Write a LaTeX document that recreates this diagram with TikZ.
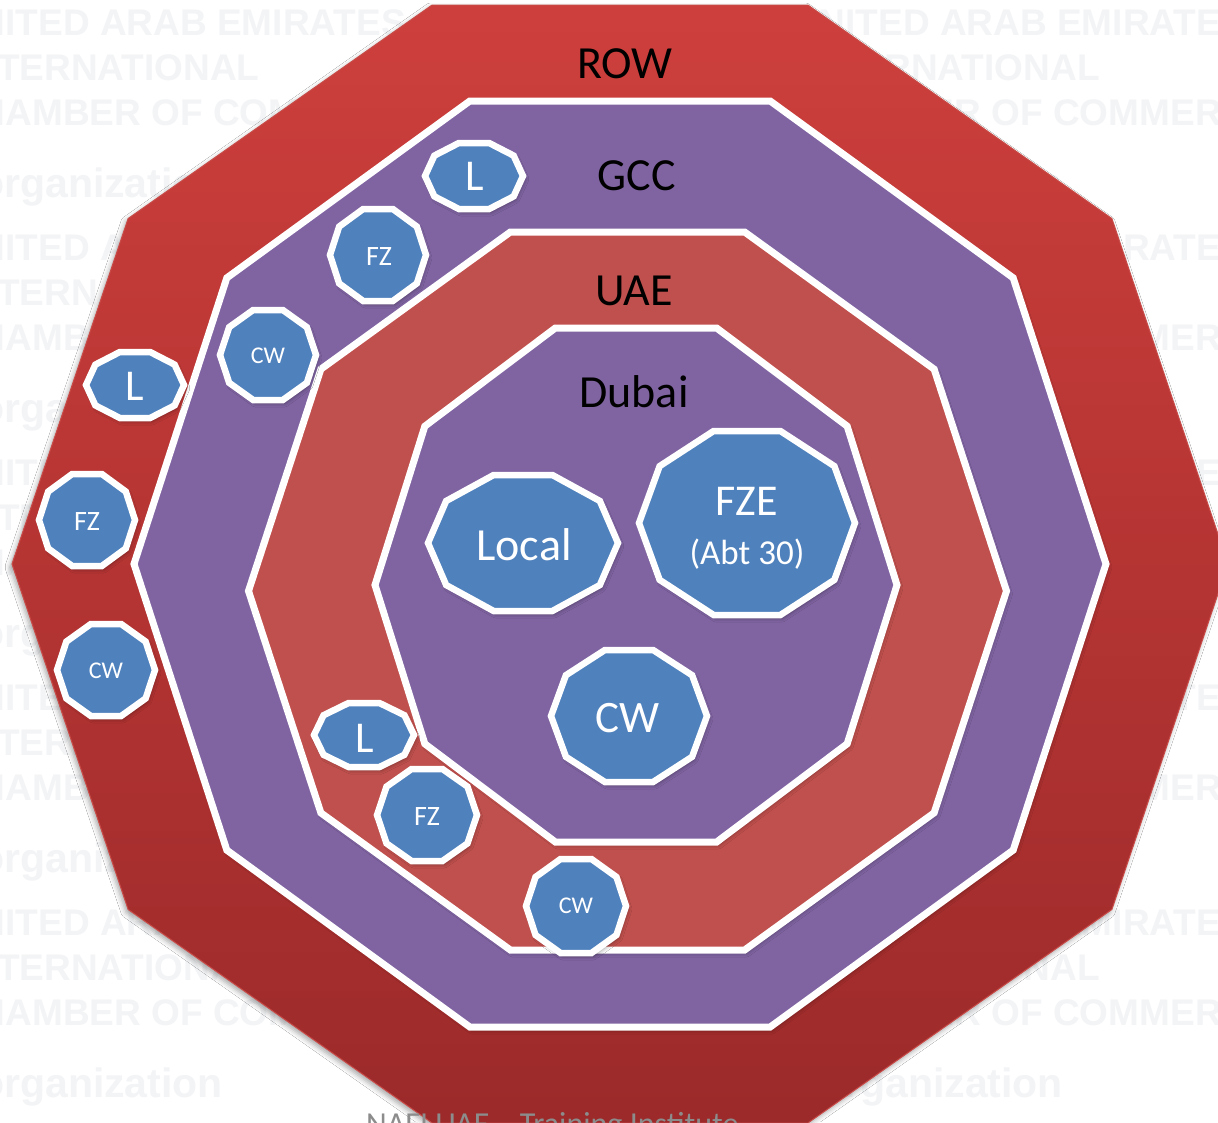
\documentclass[tikz,border=0pt]{standalone}
\usepackage{fontspec}
\setmainfont{Carlito}
\newfontfamily\wmfont{Liberation Sans}
\usetikzlibrary{shadows.blur}

\definecolor{rowtop}{RGB}{205,63,60}
\definecolor{rowbot}{RGB}{156,42,42}
\definecolor{rowedge}{RGB}{200,75,72}
\definecolor{purp}{RGB}{128,100,162}
\definecolor{uaered}{RGB}{192,80,77}
\definecolor{bluef}{RGB}{79,129,189}
\definecolor{wmgray}{RGB}{243,244,246}
\definecolor{footgray}{RGB}{140,140,140}

% PowerPoint-style decagon: centre (#2,#3), half width #4, half height #5
\newcommand{\deca}[5][]{%
  \path[#1] (#2-#4,#3) -- (#2-0.809*#4,#3-0.618*#5) -- (#2-0.309*#4,#3-#5)
    -- (#2+0.309*#4,#3-#5) -- (#2+0.809*#4,#3-0.618*#5) -- (#2+#4,#3)
    -- (#2+0.809*#4,#3+0.618*#5) -- (#2+0.309*#4,#3+#5) -- (#2-0.309*#4,#3+#5)
    -- (#2-0.809*#4,#3+0.618*#5) -- cycle;}

\tikzset{
  ring/.style={draw=white, line width=7pt, line join=miter,
    blur shadow={shadow xshift=2pt, shadow yshift=-3pt, shadow blur radius=4pt, shadow opacity=35}},
  chip/.style={fill=bluef, draw=white, line width=6.5pt, line join=miter,
    blur shadow={shadow xshift=2pt, shadow yshift=-3pt, shadow blur radius=4pt, shadow opacity=40}},
  lbl/.style={inner sep=0pt, anchor=base, text=black, font=\fontsize{46}{50}\selectfont},
  wlbl/.style={inner sep=0pt, anchor=base, text=white},
  wmA/.style={inner sep=0pt, anchor=base west, text=wmgray, font=\wmfont\bfseries\fontsize{37}{42}\selectfont},
  wmB/.style={inner sep=0pt, anchor=base west, text=wmgray, font=\wmfont\bfseries\fontsize{41}{46}\selectfont},
}

\begin{document}
\begin{tikzpicture}[x=1pt, y=-1pt]
\useasboundingbox (0,0) rectangle (1218,1122);
\clip (0,0) rectangle (1218,1122);
\fill[white] (0,0) rectangle (1218,1122);

% watermark
\foreach \r in {0,...,4}{
  \foreach \c in {0,1}{
    \node[wmA] (wma\r\c) at ({-48+840*\c},{35+225*\r}) {UNITED ARAB EMIRATES};
    \node[wmA] (wmb\r\c) at ({-40+840*\c},{80+225*\r}) {INTERNATIONAL};
    \node[wmA] (wmc\r\c) at ({-48+840*\c},{125+225*\r}) {CHAMBER OF COMMERCE};
    \node[wmB] (wmd\r\c) at ({-21+840*\c},{197+225*\r}) {organization};
  }
}

% ROW
\deca[top color=rowtop, bottom color=rowbot, draw=rowedge, line width=1pt,
  blur shadow={shadow xshift=-2pt, shadow yshift=-3pt, shadow blur radius=5pt, shadow opacity=35}]{620}{564}{608}{559}
% GCC
\deca[ring, fill=purp]{620}{564}{486}{463}
% UAE
\deca[ring, fill=uaered]{627.5}{591}{379}{359}
% Dubai
\deca[ring, fill=purp]{636}{585}{261}{257}

\node[lbl] (row) at (625,78) {ROW};
\node[lbl] (gcc) at (637,190) {GCC};
\node[lbl] (uae) at (634,305) {UAE};
\node[lbl] (dubai) at (634,407) {Dubai};

% Dubai chips
\deca[chip]{523}{543}{95}{68}
\node[wlbl, font=\fontsize{46}{50}\selectfont] (local) at (524,560) {Local};
\deca[chip]{747}{523}{108}{92}
\node[wlbl, font=\fontsize{44}{48}\selectfont] (fze) at (747,515) {FZE};
\node[wlbl, font=\fontsize{35}{40}\selectfont] (abt) at (747,564) {(Abt 30)};
\deca[chip]{629}{716}{78}{66}
\node[wlbl, font=\fontsize{45}{50}\selectfont] (cwd) at (628,732) {CW};

% GCC chips
\deca[chip]{474}{176}{49}{33}
\node[wlbl, font=\fontsize{44}{48}\selectfont] (lg) at (475,190) {L};
\deca[chip]{378}{255}{48}{46}
\node[wlbl, font=\fontsize{28}{32}\selectfont] (fzg) at (379,265) {FZ};
\deca[chip]{268}{355}{48}{45}
\node[wlbl, font=\fontsize{24}{28}\selectfont] (cwg) at (268,363) {CW};

% ROW chips
\deca[chip]{135}{385}{49}{33}
\node[wlbl, font=\fontsize{44}{48}\selectfont] (lr) at (135,400) {L};
\deca[chip]{87}{520}{48}{46}
\node[wlbl, font=\fontsize{28}{32}\selectfont] (fzr) at (87,530) {FZ};
\deca[chip]{106}{670}{49}{46}
\node[wlbl, font=\fontsize{24}{28}\selectfont] (cwr) at (106,678) {CW};

% UAE chips
\deca[chip]{364}{735}{50}{32}
\node[wlbl, font=\fontsize{44}{48}\selectfont] (lu) at (365,752) {L};
\deca[chip]{427}{815}{50}{46}
\node[wlbl, font=\fontsize{28}{32}\selectfont] (fzu) at (427,825) {FZ};
\deca[chip]{576}{906}{50}{47}
\node[wlbl, font=\fontsize{24}{28}\selectfont] (cwu) at (576,913) {CW};

% footer
\node[inner sep=0pt, anchor=base west, text=footgray, font=\fontsize{32}{36}\selectfont] (foot) at (366,1134) {NAFI UAE – Training Institute};
\end{tikzpicture}
\end{document}
